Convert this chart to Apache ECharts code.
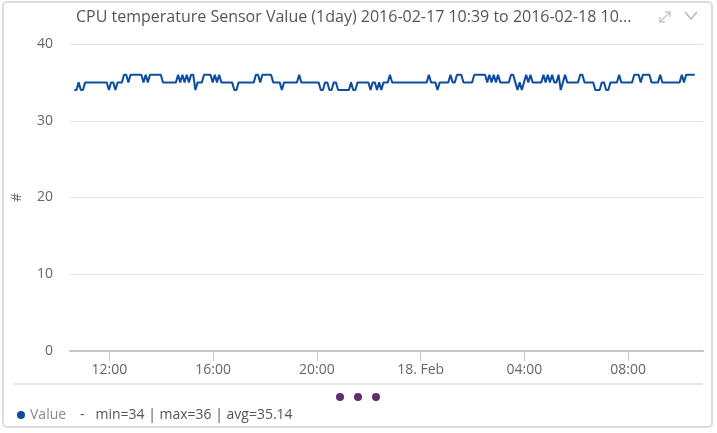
<!DOCTYPE html>
<html>
<head>
<meta charset="utf-8">
<script src="https://cdn.jsdelivr.net/npm/echarts@6/dist/echarts.min.js"></script>
<style>
  html, body { margin: 0; padding: 0; background: #fff; }
  #chart { width: 717px; height: 433px; }
</style>
</head>
<body>
<div id="chart"></div>
<script>
  // minutes since 2016-02-17 00:00, one reading every 5 minutes
  var startMinute = 639; // 10:39
  var stepMinutes = 5;
  var values = [
    34,34,35,34,34,35,35,35,35,35,35,35,35,35,35,35,34,35,35,34,
    35,35,35,36,36,35,36,36,36,36,36,36,35,36,35,36,36,36,36,36,
    36,35,35,35,35,35,35,35,36,35,36,35,36,35,36,36,34,35,35,35,
    36,36,36,36,35,36,35,36,35,35,35,35,35,35,34,34,35,35,35,35,
    35,35,35,35,36,36,35,36,36,36,36,36,35,35,35,35,34,35,35,35,
    35,35,35,35,36,35,35,35,35,35,35,35,35,35,34,34,35,35,34,34,
    35,35,34,34,34,34,34,34,35,34,34,35,35,35,35,35,35,34,35,35,
    34,35,34,35,35,35,36,35,35,35,35,35,35,35,35,35,35,35,35,35,
    35,35,35,35,36,35,35,35,34,35,35,35,35,35,36,35,35,36,36,36,
    35,35,35,35,35,36,36,36,36,36,36,35,36,35,36,35,36,35,35,35,
    35,35,36,36,35,34,35,34,35,36,35,36,35,35,35,35,35,36,35,36,
    35,36,35,35,36,34,35,36,35,35,35,35,35,35,36,36,35,35,35,35,
    35,34,34,34,35,35,34,34,35,35,35,35,36,35,35,35,35,35,35,36,
    36,36,35,36,36,36,36,35,35,35,35,36,35,35,35,35,35,35,35,35,
    35,36,35,36,36,36,36,36
  ];
  var tickMinutes = [720, 960, 1200, 1440, 1680, 1920];
  var seriesName = 'Value';
  var titleText = 'CPU temperature Sensor Value (1day) 2016-02-17 10:39 to 2016-02-18 10...';

  var points = values.map(function (v, i) { return [startMinute + i * stepMinutes, v]; });
  var vMin = Math.min.apply(null, values);
  var vMax = Math.max.apply(null, values);
  var vAvg = values.reduce(function (a, b) { return a + b; }, 0) / values.length;
  var statsText = '-   min=' + vMin + ' | max=' + vMax + ' | avg=' + vAvg.toFixed(2);

  function pad(n) { return (n < 10 ? '0' : '') + n; }

  var myChart = echarts.init(document.getElementById('chart'));
  var font = '"Open Sans", Lato, sans-serif';

  myChart.setOption({
    animation: false,
    textStyle: { fontFamily: font },
    title: {
      text: titleText,
      left: 71,
      top: 4,
      textStyle: { fontSize: 16, fontWeight: 'normal', color: '#555', fontFamily: font }
    },
    grid: { left: 70, right: 14, top: 44, bottom: 82 },
    legend: {
      left: 12,
      top: 403,
      icon: 'circle',
      itemWidth: 8,
      itemHeight: 8,
      itemGap: 0,
      data: [seriesName],
      formatter: function (name) {
        return '{a|' + name + '}{b|' + statsText + '}';
      },
      textStyle: {
        rich: {
          a: { fontSize: 14, color: '#8a8a8a', fontFamily: font, width: 50 },
          b: { fontSize: 14, color: '#555', fontFamily: font }
        }
      }
    },
    xAxis: {
      type: 'value',
      min: 629,
      max: 2093,
      splitLine: { show: false },
      axisLine: { show: true, lineStyle: { color: '#c6c6c6', width: 2 } },
      axisTick: {
        show: true,
        length: 10,
        customValues: tickMinutes,
        lineStyle: { color: '#c6c6c6' }
      },
      axisLabel: {
        customValues: tickMinutes,
        margin: 12,
        fontSize: 14,
        color: '#666',
        formatter: function (m) {
          var h = Math.floor(m / 60) % 24;
          if (h === 0) return '18. Feb';
          return pad(h) + ':00';
        }
      }
    },
    yAxis: {
      type: 'value',
      min: 0,
      max: 40,
      interval: 10,
      name: '#',
      nameLocation: 'middle',
      nameGap: 46,
      nameRotate: 90,
      nameTextStyle: { fontSize: 14, color: '#666' },
      axisLine: { show: false },
      axisTick: { show: false },
      axisLabel: { fontSize: 14, color: '#666', margin: 17 },
      splitLine: { lineStyle: { color: '#e3e3e3' } }
    },
    series: [{
      name: seriesName,
      type: 'line',
      data: points,
      showSymbol: false,
      color: '#0e4e9e',
      lineStyle: { color: '#0e4e9e', width: 2 }
    }],
    graphic: [
      {
        type: 'rect', silent: true, z: -1,
        shape: { x: 3, y: 2, width: 709, height: 425, r: 4 },
        style: { fill: 'none', stroke: '#dcdcdc', lineWidth: 2 }
      },
      {
        type: 'line', silent: true,
        shape: { x1: 14, y1: 384, x2: 703, y2: 384 },
        style: { stroke: '#cfcfcf', lineWidth: 1 }
      },
      { type: 'circle', shape: { cx: 340, cy: 397, r: 4 }, style: { fill: '#5c2f6e' } },
      { type: 'circle', shape: { cx: 358, cy: 397, r: 4 }, style: { fill: '#5c2f6e' } },
      { type: 'circle', shape: { cx: 376, cy: 397, r: 4 }, style: { fill: '#5c2f6e' } },
      // expand icon
      { type: 'line', shape: { x1: 660, y1: 22, x2: 670, y2: 12 }, style: { stroke: '#c8c8c8', lineWidth: 1.5 } },
      { type: 'polyline', shape: { points: [[665, 12], [670, 12], [670, 17]] }, style: { stroke: '#c8c8c8', lineWidth: 1.5, fill: 'none' } },
      { type: 'polyline', shape: { points: [[660, 17], [660, 22], [665, 22]] }, style: { stroke: '#c8c8c8', lineWidth: 1.5, fill: 'none' } },
      // collapse chevron
      { type: 'polyline', shape: { points: [[685, 12], [691, 19], [697, 12]] }, style: { stroke: '#b8b8b8', lineWidth: 1.5, fill: 'none' } }
    ]
  });
</script>
</body>
</html>
